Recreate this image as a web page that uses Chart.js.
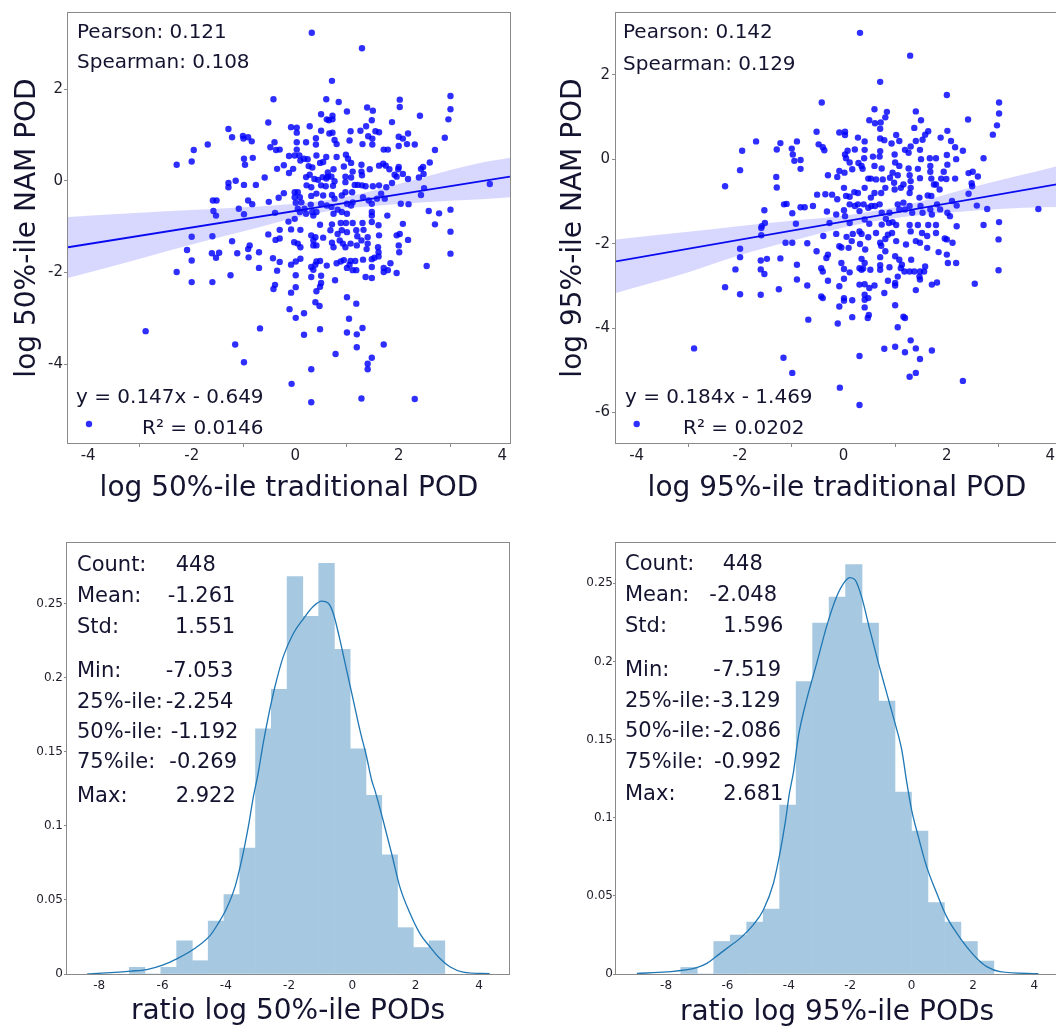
<!DOCTYPE html>
<html>
<head>
<meta charset="utf-8">
<script src="https://cdn.jsdelivr.net/npm/chart.js@4.4.1/dist/chart.umd.min.js"></script>
<style>
  html, body { margin: 0; padding: 0; background: #fff; width: 1056px; height: 1027px; overflow: hidden; }
  canvas { position: absolute; }
</style>
</head>
<body>
<canvas id="tl" width="528" height="520" style="left:0;top:0"></canvas>
<canvas id="tr" width="540" height="520" style="left:528px;top:0"></canvas>
<canvas id="bl" width="528" height="512" style="left:0;top:520px"></canvas>
<canvas id="br" width="540" height="512" style="left:528px;top:520px"></canvas>
<script>
// ---------------- DATA ----------------
const scatter50 = [
[0.32,3.23],[1.29,2.89],[0.71,2.18],[-0.42,1.78],[0.60,1.78],[0.84,1.72],[3.00,1.85],[2.02,1.77],[2.02,1.61],[3.00,1.56],[1.39,1.60],[1.50,1.53],[1.00,1.51],[0.50,1.45],[0.72,1.42],[0.61,1.34],[0.72,1.34],[0.65,1.32],[2.41,1.42],[2.96,1.34],[1.48,1.32],[1.87,1.28],[-0.52,1.27],[-1.29,1.13],[-0.08,1.17],[0.03,1.16],[0.03,1.05],[0.28,1.19],[1.37,1.19],[0.50,1.09],[0.72,1.05],[0.66,1.03],[1.07,1.08],[1.26,1.09],[1.55,1.08],[1.62,1.06],[1.41,0.97],[1.49,0.92],[2.18,1.03],[2.00,0.96],[2.08,0.92],[2.89,0.94],[-1.22,0.95],[-1.01,0.98],[-0.91,0.95],[-0.84,0.86],[-1.00,0.92],[0.03,0.84],[0.21,0.84],[0.40,0.93],[0.76,0.89],[0.80,0.80],[1.05,0.88],[-1.69,0.79],[-1.96,0.67],[-2.00,0.42],[-2.29,0.35],[-0.99,0.48],[-0.82,0.50],[-0.97,0.35],[-0.48,0.73],[-0.40,0.84],[-0.37,0.67],[-0.30,0.68],[0.03,0.68],[-0.01,0.55],[-0.12,0.54],[0.08,0.55],[0.40,0.79],[0.41,0.55],[0.60,0.52],[0.80,0.52],[0.98,0.57],[1.02,0.48],[1.30,0.80],[1.49,0.79],[1.71,0.68],[1.79,0.68],[2.00,0.76],[2.16,0.80],[2.31,0.79],[2.70,0.67],[2.60,0.40],[2.47,0.30],[2.48,0.15],[2.39,0.07],[-0.22,0.34],[-0.35,0.26],[-0.12,0.17],[-0.04,0.26],[0.10,0.44],[0.17,0.48],[0.24,0.47],[0.26,0.32],[0.33,0.29],[0.48,0.39],[0.54,0.41],[0.63,0.18],[0.74,0.25],[0.94,0.31],[1.08,0.39],[1.11,0.20],[1.28,0.35],[1.28,0.20],[1.44,0.25],[1.62,0.33],[1.70,0.37],[1.75,0.33],[1.82,0.25],[2.00,0.30],[1.99,0.25],[1.92,0.13],[2.08,0.15],[2.18,0.04],[2.43,0.26],[-0.59,0.07],[-0.76,-0.09],[-0.99,-0.09],[-1.15,0.00],[-1.29,-0.05],[-1.29,-0.14],[0.21,0.08],[0.28,0.13],[0.37,0.04],[0.44,0.02],[0.53,0.08],[0.60,0.05],[0.63,0.09],[0.70,0.09],[0.76,-0.01],[0.73,-0.11],[0.97,0.09],[0.97,-0.03],[1.08,0.07],[1.15,-0.09],[1.21,-0.09],[1.29,0.12],[1.29,-0.10],[1.36,-0.12],[1.50,-0.12],[1.62,-0.10],[1.76,-0.14],[1.87,-0.05],[1.96,0.09],[0.22,-0.10],[0.31,-0.14],[0.50,-0.10],[0.59,-0.12],[-0.32,-0.37],[-0.22,-0.27],[-0.01,-0.25],[0.05,-0.25],[-0.01,-0.36],[0.09,-0.36],[0.12,-0.47],[0.31,-0.33],[0.41,-0.28],[0.54,-0.32],[0.71,-0.31],[0.76,-0.39],[0.90,-0.32],[0.97,-0.25],[1.10,-0.25],[-1.59,-0.43],[-1.52,-0.43],[-1.58,-0.66],[-1.53,-0.76],[-1.09,-0.61],[-0.99,-0.73],[-0.91,-0.43],[-0.83,-0.51],[-0.51,-0.46],[-0.39,-0.70],[0.01,-0.48],[0.05,-0.61],[0.09,-0.68],[0.18,-0.61],[0.21,-0.72],[0.30,-0.52],[0.33,-0.68],[0.41,-0.68],[0.35,-0.76],[0.50,-0.50],[0.61,-0.54],[0.70,-0.57],[0.74,-0.72],[0.82,-0.63],[0.90,-0.68],[1.00,-0.72],[1.00,-0.50],[1.08,-0.54],[1.11,-0.47],[1.31,-0.36],[1.42,-0.43],[1.48,-0.50],[1.48,-0.68],[1.48,-0.76],[1.58,-0.39],[1.66,-0.28],[1.73,-0.39],[1.78,-0.76],[2.04,-0.50],[2.19,-0.51],[2.43,-0.31],[2.49,-0.16],[2.58,-0.66],[2.78,-0.71],[3.00,-0.63],[3.76,-0.07],[-0.13,-0.89],[-0.01,-0.83],[0.48,-0.96],[0.71,-0.95],[0.88,-0.92],[0.98,-0.92],[1.11,-0.92],[1.30,-0.92],[1.48,-0.90],[1.61,-0.97],[2.08,-0.94],[2.70,-0.95],
[-2.00,-1.22],[-1.60,-1.21],[-1.22,-1.32],[-0.88,-1.41],[-0.91,-1.49],[-1.12,-1.58],[-0.70,-1.56],[-0.52,-1.17],[-0.30,-1.07],[-0.38,-1.29],[-0.30,-1.26],[-0.08,-1.06],[-0.02,-1.34],[0.10,-1.07],[0.05,-1.37],[0.10,-1.45],[0.31,-1.19],[0.35,-1.30],[0.39,-1.23],[0.35,-1.41],[0.41,-1.41],[0.54,-1.24],[0.68,-1.08],[0.71,-1.35],[0.74,-1.45],[0.82,-1.16],[0.86,-1.30],[0.90,-1.08],[1.00,-1.12],[0.92,-1.37],[0.97,-1.45],[1.07,-1.37],[1.18,-1.08],[1.20,-1.21],[1.19,-1.41],[1.28,-1.30],[1.32,-1.07],[1.40,-1.23],[1.40,-1.37],[1.38,-1.49],[1.62,-1.19],[1.60,-1.45],[1.61,-1.56],[1.61,-1.65],[1.96,-1.19],[2.02,-1.16],[2.00,-1.41],[2.01,-1.56],[2.18,-1.29],[3.00,-1.11],[3.00,-1.59],[-2.09,-1.51],[-2.00,-1.74],[-1.61,-1.58],[-1.53,-1.68],[-1.47,-1.57],[-1.25,-2.06],[-2.29,-1.99],[-2.00,-2.21],[-1.60,-2.21],[-0.90,-1.67],[-0.70,-1.90],[-0.43,-1.69],[-0.30,-1.77],[-0.35,-1.96],[-0.08,-1.83],[0.01,-1.76],[0.10,-1.70],[0.01,-2.06],[-0.42,-2.36],[-0.39,-2.27],[-0.08,-2.44],[0.01,-2.32],[0.31,-1.88],[0.35,-1.94],[0.41,-1.76],[0.39,-1.83],[0.48,-1.75],[0.61,-1.85],[0.50,-2.07],[0.31,-2.10],[0.50,-2.23],[0.48,-2.31],[0.41,-2.41],[0.77,-2.17],[0.80,-1.80],[0.88,-1.76],[0.94,-1.73],[1.07,-1.75],[1.05,-1.83],[1.00,-1.90],[1.11,-1.95],[1.18,-1.95],[1.16,-1.75],[1.31,-1.72],[1.36,-2.10],[1.48,-2.12],[1.48,-1.88],[1.48,-1.71],[1.53,-1.68],[1.71,-1.90],[1.71,-1.99],[1.79,-1.95],[1.84,-1.80],[1.96,-2.01],[2.54,-1.86],[1.00,-2.54],[1.18,-2.68],[0.39,-2.65],[0.47,-2.73],[-0.11,-2.80],[0.01,-2.99],[0.17,-2.89],[1.04,-3.01],[1.30,-3.21],[1.00,-3.31],[1.19,-3.35],[0.48,-3.24],[0.17,-3.36],[-0.68,-3.22],[-2.89,-3.28],[-1.16,-3.57],[-0.99,-3.96],[0.31,-4.11],[0.78,-3.78],[1.19,-3.63],[1.71,-3.57],[1.48,-3.86],[1.40,-3.99],[1.40,-4.11],[-0.07,-4.43],[0.31,-4.83],[1.28,-4.75],[2.31,-4.76]
];
const scatter95 = [
[0.32,2.99],[1.29,2.45],[0.71,1.83],[-0.42,1.34],[2.00,1.52],[3.01,1.34],[3.01,1.08],[2.97,0.80],[2.89,0.58],[0.60,1.18],[0.84,1.12],[0.50,0.92],[0.61,0.85],[0.72,0.87],[0.81,0.99],[0.71,0.72],[1.40,1.13],[1.50,0.92],[2.41,0.94],[1.37,0.74],[1.64,0.66],[1.58,0.58],[2.01,0.67],[1.88,0.51],[2.08,0.43],[2.16,0.28],[2.31,0.20],[2.71,0.02],[-0.52,0.65],[-0.08,0.63],[0.03,0.65],[0.03,0.57],[0.28,0.51],[0.41,0.42],[0.71,0.49],[0.79,0.45],[0.93,0.37],[1.02,0.57],[1.08,0.43],[1.30,0.30],[1.40,0.43],[1.48,0.22],[1.53,0.46],[1.19,0.22],[1.26,0.15],[-1.69,0.42],[-1.96,0.20],[-2.00,-0.26],[-2.29,-0.64],[-1.29,0.23],[-1.22,0.38],[-1.00,0.25],[-0.98,0.11],[-0.90,0.42],[-0.95,-0.04],[-0.83,-0.02],[-0.83,-0.23],[-0.48,0.35],[-0.40,0.28],[-0.37,0.21],[0.03,0.11],[0.05,0.02],[0.08,0.20],[0.22,0.23],[0.41,0.22],[0.40,0.02],[0.57,0.06],[0.70,0.06],[0.71,0.19],[0.99,0.11],[1.00,-0.08],[1.08,-0.16],[1.26,-0.22],[1.50,0.00],[1.67,0.02],[1.79,0.02],[2.00,0.10],[2.01,-0.13],[2.18,0.00],[2.50,-0.30],[2.42,-0.33],[2.60,-0.41],[-0.30,-0.38],[-0.12,-0.42],[-0.08,-0.28],[0.02,-0.32],[0.12,-0.08],[0.17,-0.24],[0.29,-0.09],[0.35,-0.16],[0.37,-0.23],[0.53,-0.46],[0.60,-0.16],[0.63,-0.48],[0.74,-0.22],[0.76,-0.48],[0.90,-0.44],[0.95,-0.32],[0.98,-0.56],[1.05,-0.38],[1.16,-0.60],[1.28,-0.38],[1.30,-0.52],[1.44,-0.23],[1.48,-0.45],[1.68,-0.16],[1.68,-0.30],[1.70,-0.46],[1.75,-0.60],[1.89,-0.46],[1.94,-0.30],[1.99,-0.47],[2.16,-0.46],[2.48,-0.57],[2.49,-0.64],[2.42,-0.82],[2.58,-1.10],[2.78,-1.18],[3.01,-1.49],[3.77,-1.18],[-1.30,-0.42],[-1.29,-0.67],[-0.51,-0.84],[-0.35,-0.83],[-0.22,-0.84],[-0.12,-0.95],[0.01,-0.68],[0.05,-0.87],[0.12,-0.89],[0.21,-0.78],[0.28,-0.80],[0.41,-0.68],[0.48,-0.46],[0.53,-0.91],[0.60,-0.80],[0.73,-0.80],[0.81,-0.68],[0.99,-0.72],[1.11,-0.68],[1.28,-0.80],[1.30,-0.68],[1.47,-0.91],[1.63,-0.86],[1.70,-0.87],[1.79,-0.60],[1.86,-0.72],[-1.15,-1.07],[-1.10,-1.06],[-0.83,-1.14],[-0.75,-1.14],[-0.59,-1.11],[-0.99,-1.28],[-1.53,-1.21],[-1.52,-1.51],[-1.58,-1.59],[-0.92,-1.53],[-0.32,-1.24],[-0.14,-1.31],[0.01,-1.21],[0.03,-1.35],[0.12,-1.07],[0.22,-1.11],[0.28,-1.07],[0.31,-1.23],[0.39,-1.07],[0.41,-1.43],[0.48,-1.15],[0.54,-1.11],[0.61,-1.11],[0.70,-1.07],[0.74,-1.27],[0.82,-1.41],[0.89,-1.27],[0.95,-1.49],[1.05,-1.07],[1.08,-1.19],[1.16,-1.03],[1.19,-1.19],[1.28,-1.11],[1.33,-1.27],[1.49,-1.11],[1.53,-1.27],[1.68,-1.19],[1.71,-1.31],[1.81,-1.07],[1.87,-1.19],[2.01,-1.27],[2.06,-1.35],[2.10,-0.99],[2.19,-1.10],[2.19,-1.59],[2.71,-1.56],[-0.27,-1.51],[0.12,-1.51],[0.50,-1.53],[0.74,-1.55],[0.88,-1.51],[1.02,-1.56],[1.28,-1.56],[1.44,-1.56],[1.64,-1.56],[1.79,-1.56],
[-1.59,-1.63],[-1.59,-1.80],[-2.00,-2.12],[-2.00,-2.32],[-1.60,-2.40],[-1.48,-2.36],[-1.22,-2.35],[-2.09,-2.61],[-1.60,-2.61],[-1.53,-2.72],[-2.29,-3.03],[-2.00,-3.20],[-1.60,-3.21],[-1.25,-3.08],[-1.12,-1.98],[-0.99,-1.98],[-0.70,-1.99],[-0.52,-2.18],[-0.39,-1.82],[-0.33,-2.34],[-0.30,-2.26],[-0.14,-1.77],[-0.08,-2.06],[-0.04,-2.09],[0.10,-2.10],[0.06,-1.84],[0.16,-1.94],[0.18,-1.77],[0.31,-1.71],[0.35,-1.77],[0.32,-2.01],[0.48,-1.85],[0.42,-2.14],[0.35,-2.36],[0.41,-2.46],[0.38,-2.59],[0.63,-1.75],[0.71,-1.98],[0.73,-2.05],[0.81,-2.18],[0.86,-1.79],[0.81,-1.89],[0.94,-1.75],[1.02,-1.94],[1.00,-2.30],[1.08,-2.38],[1.13,-2.50],[1.21,-2.02],[1.31,-2.38],[1.30,-1.71],[1.40,-1.94],[1.48,-1.98],[1.52,-1.75],[1.62,-1.82],[1.62,-2.10],[1.79,-1.75],[1.84,-2.20],[1.96,-1.88],[2.00,-1.90],[2.00,-2.26],[2.02,-2.46],[2.11,-1.98],[2.18,-2.46],[3.00,-1.90],[3.00,-2.63],[-0.90,-2.50],[-0.90,-2.85],[-0.70,-2.99],[-0.43,-2.58],[-0.40,-2.66],[-0.30,-2.88],[-0.08,-3.01],[-0.04,-2.46],[0.01,-2.60],[0.01,-2.83],[0.12,-2.68],[0.31,-2.58],[0.35,-2.62],[0.52,-2.62],[0.31,-2.97],[0.41,-2.96],[0.50,-3.05],[0.60,-2.99],[0.71,-2.32],[0.71,-2.51],[0.71,-2.62],[0.89,-2.56],[0.86,-2.88],[1.00,-2.93],[1.00,-2.99],[1.05,-2.78],[1.11,-2.58],[1.18,-2.66],[1.28,-2.66],[1.37,-2.66],[1.48,-2.66],[1.56,-2.66],[1.58,-2.54],[1.47,-2.78],[1.48,-2.85],[1.40,-3.10],[1.71,-2.97],[1.81,-2.92],[2.54,-2.95],[-0.43,-3.25],[-0.40,-3.29],[0.01,-3.29],[0.01,-3.35],[0.17,-3.34],[-0.08,-3.49],[0.41,-3.21],[0.41,-3.33],[0.48,-3.29],[0.41,-3.51],[0.79,-3.17],[1.00,-3.46],[1.16,-3.73],[1.19,-3.76],[0.49,-3.69],[0.47,-3.76],[0.17,-3.74],[-0.11,-3.89],[1.05,-3.98],[-0.68,-3.80],[1.30,-4.29],[1.00,-4.44],[0.79,-4.49],[1.19,-4.57],[1.40,-4.48],[1.71,-4.53],[1.48,-4.73],[-2.89,-4.48],[-1.16,-4.70],[-0.99,-5.06],[0.31,-4.66],[1.40,-5.06],[1.28,-5.15],[2.31,-5.25],[-0.07,-5.41],[0.31,-5.82]
];

// regression lines and confidence bands
const fit50X = [-4.39, 4.15];
const fit50Y = [-1.45, 0.09];
const band50X = [-4.39, -3, -2, -1, 0, 0.8, 1.5, 2.5, 3.5, 4.15];
const band50Hi = [-0.79, -0.70, -0.64, -0.58, -0.50, -0.39, -0.22, 0.08, 0.37, 0.50];
const band50Lo = [-2.12, -1.70, -1.39, -1.10, -0.81, -0.63, -0.55, -0.47, -0.41, -0.36];
const fit95X = [-4.40, 4.15];
const fit95Y = [-2.42, -0.59];
const band95X = [-4.40, -3, -2, -1, 0, 0.6, 1.5, 2.5, 3.5, 4.15];
const band95Hi = [-1.90, -1.72, -1.58, -1.46, -1.34, -1.23, -1.00, -0.66, -0.36, -0.16];
const band95Lo = [-3.17, -2.68, -2.27, -1.94, -1.62, -1.47, -1.32, -1.22, -1.15, -1.13];

// histograms (bin centres and densities)
const hist50X = [-6.804,-6.305,-5.806,-5.307,-4.808,-4.309,-3.811,-3.312,-2.813,-2.314,-1.815,-1.316,-0.817,-0.318,0.181,0.680,1.179,1.678,2.177,2.673];
const hist50Y = [0.0045,0,0.0045,0.0224,0.0090,0.0358,0.0537,0.0850,0.1656,0.1924,0.2685,0.2417,0.2775,0.2193,0.1522,0.1208,0.0806,0.0313,0.0179,0.0224];
const hist95X = [-7.251,-6.714,-6.177,-5.640,-5.103,-4.566,-4.030,-3.493,-2.956,-2.419,-1.882,-1.345,-0.809,-0.272,0.265,0.802,1.339,1.876,2.413];
const hist95Y = [0.0042,0,0.0208,0.0249,0.0333,0.0416,0.1081,0.1871,0.2245,0.2412,0.2620,0.2245,0.1746,0.1164,0.0915,0.0457,0.0333,0.0208,0.0083];

// KDE curves
const kde50X = [-8.38,-7.0,-6.5,-6.0,-5.52,-5.01,-4.5,-4.24,-4.0,-3.71,-3.5,-3.29,-3.13,-2.98,-2.82,-2.66,-2.45,-2.19,-1.87,-1.55,-1.24,-0.97,-0.76,-0.6,-0.39,-0.18,0.03,0.24,0.45,0.61,0.71,0.97,1.24,1.5,1.82,2.13,2.45,2.76,3.08,3.5,4.34];
const kde50Y = [0,0.002,0.003,0.006,0.0106,0.0169,0.0259,0.0342,0.0432,0.0589,0.0769,0.0994,0.1196,0.1354,0.1557,0.1736,0.1939,0.2141,0.2299,0.2400,0.2483,0.2519,0.2505,0.2434,0.2254,0.2051,0.1849,0.1646,0.1466,0.1309,0.1242,0.1039,0.0814,0.0589,0.0410,0.0275,0.0184,0.0106,0.0049,0.0013,0.0002];
const kde95X = [-8.95,-7.98,-7.0,-6.67,-6.40,-6.02,-5.59,-5.16,-4.83,-4.50,-4.29,-4.12,-3.98,-3.85,-3.69,-3.42,-3.09,-2.77,-2.44,-2.17,-2.01,-1.84,-1.63,-1.36,-1.08,-0.81,-0.54,-0.32,-0.16,0.0,0.22,0.49,0.82,1.14,1.47,1.79,2.12,2.45,2.88,4.13];
const kde95Y = [0.0004,0.0013,0.0041,0.0068,0.0107,0.0164,0.0228,0.0314,0.0410,0.0581,0.0773,0.0965,0.1157,0.1290,0.1519,0.1754,0.1989,0.2223,0.2415,0.2512,0.2537,0.2522,0.2415,0.2202,0.1989,0.1797,0.1605,0.1434,0.1230,0.1050,0.0879,0.0687,0.0517,0.0367,0.0261,0.0175,0.0101,0.0047,0.0015,0.0002];

// tick values / labels
const scatterXTicks = [-4,-3,-2,-1,0,1,2,3,4];
const scatterXLabels = ['-4','','-2','','0','','2','','4'];
const y50Ticks = [-4,-2,0,2];
const y50Labels = ['-4','-2','0','2'];
const y95Ticks = [-6,-4,-2,0,2];
const y95Labels = ['-6','-4','-2','0','2'];
const histXTicks = [-8,-6,-4,-2,0,2,4];
const histXLabels = ['-8','-6','-4','-2','0','2','4'];
const histYTicks = [0,0.05,0.1,0.15,0.2,0.25];
const histYLabels = ['0','0.05','0.1','0.15','0.2','0.25'];

// annotation texts
const corr50 = ['Pearson: 0.121','Spearman: 0.108'];
const corr95 = ['Pearson: 0.142','Spearman: 0.129'];
const eq50 = ['y = 0.147x - 0.649','R\u00B2 = 0.0146'];
const eq95 = ['y = 0.184x - 1.469','R\u00B2 = 0.0202'];
const statLabels = ['Count:','Mean:','Std:','Min:','25%-ile:','50%-ile:','75%ile:','Max:'];
const stats50 = ['448','-1.261','1.551','-7.053','-2.254','-1.192','-0.269','2.922'];
const stats95 = ['448','-2.048','1.596','-7.519','-3.129','-2.086','-0.992','2.681'];

// ---------------- STYLE ----------------
const FONT = '"DejaVu Sans", sans-serif';
const TXT = '#141430';
const TICK = '#1e1e2a';
const SPINE = '#8a8a8a';
const PT = 'rgba(0,0,255,0.82)';
const LINE = '#0a0af0';
const BAND = 'rgba(60,60,255,0.2)';
const HIST = 'rgb(166,201,225)';
const KDE = '#1f77b4';

Chart.defaults.animation = false;
Chart.defaults.font.family = FONT;

function xy(xs, ys) { return xs.map((x, i) => ({ x: x, y: ys[i] })); }

function panelPlugin(items, dot) {
  return {
    id: 'panel',
    afterDatasetsDraw(chart) {
      const ctx = chart.ctx, a = chart.chartArea;
      ctx.save();
      ctx.strokeStyle = SPINE; ctx.lineWidth = 1;
      ctx.strokeRect(a.left - 0.5, a.top - 0.5, a.right - a.left + 1, a.bottom - a.top + 1);
      ctx.fillStyle = TXT; ctx.textAlign = 'left'; ctx.textBaseline = 'alphabetic';
      items.forEach(t => { ctx.font = t.size + 'px ' + FONT; ctx.fillText(t.text, t.x, t.y); });
      if (dot) {
        ctx.fillStyle = PT; ctx.beginPath(); ctx.arc(dot.x, dot.y, 3.2, 0, Math.PI * 2); ctx.fill();
      }
      ctx.restore();
    }
  };
}

function axisX(o) {
  return {
    type: 'linear', min: o.min, max: o.max, offset: false,
    afterBuildTicks: s => { s.ticks = o.ticks.map(v => ({ value: v })); },
    afterFit: s => { s.height = o.h; },
    ticks: { callback: (v, i) => o.labels[i], font: { family: FONT, size: o.fs }, color: TICK, padding: o.pad, autoSkip: false, maxRotation: 0, minRotation: 0 },
    grid: { offset: false, drawOnChartArea: false, drawTicks: true, tickLength: 4, tickWidth: 1,
            tickColor: c => (o.oddMarks && o.labels[c.index] === '' ? SPINE : 'rgba(0,0,0,0)') },
    border: { display: false },
    title: { display: true, text: o.title, font: { family: FONT, size: 28 }, color: TXT, padding: { top: 0, bottom: o.titlePad } }
  };
}
function axisY(o) {
  return {
    type: 'linear', min: o.min, max: o.max,
    afterBuildTicks: s => { s.ticks = o.ticks.map(v => ({ value: v })); },
    afterFit: s => { s.width = o.w; },
    ticks: { callback: (v, i) => o.labels[i], font: { family: FONT, size: o.fs }, color: TICK, padding: o.pad, autoSkip: false },
    grid: { drawOnChartArea: false, drawTicks: true, tickLength: o.tl, tickColor: SPINE },
    border: { display: false },
    title: o.title ? { display: true, text: o.title, font: { family: FONT, size: 28 }, color: TXT, padding: { top: o.titlePad, bottom: 0 } } : { display: false }
  };
}

function scatterChart(id, pts, fitX, fitY, bX, bHi, bLo, geo, xo, yo, items, dot) {
  new Chart(document.getElementById(id), {
    type: 'scatter',
    data: { datasets: [
      { type: 'line', data: xy(fitX, fitY), borderColor: LINE, borderWidth: 1.8, pointRadius: 0, fill: false, order: 1 },
      { type: 'line', data: xy(bX, bHi), borderColor: 'rgba(0,0,0,0)', borderWidth: 0, pointRadius: 0, fill: '+1', backgroundColor: BAND, cubicInterpolationMode: 'monotone', order: 2 },
      { type: 'line', data: xy(bX, bLo), borderColor: 'rgba(0,0,0,0)', borderWidth: 0, pointRadius: 0, fill: false, cubicInterpolationMode: 'monotone', order: 2 },
      { type: 'scatter', data: pts.map(p => ({ x: p[0], y: p[1] })), backgroundColor: PT, borderWidth: 0, pointRadius: 3.2, order: 3 }
    ]},
    options: {
      responsive: false, animation: false, devicePixelRatio: 1,
      layout: { padding: geo },
      plugins: { legend: { display: false }, tooltip: { enabled: false } },
      scales: { x: axisX(xo), y: axisY(yo) }
    },
    plugins: [panelPlugin(items, dot)]
  });
}

function histChart(id, hx, hy, kx, ky, geo, xo, yo, items) {
  new Chart(document.getElementById(id), {
    type: 'bar',
    data: { datasets: [
      { type: 'line', data: xy(kx, ky), borderColor: KDE, borderWidth: 1.3, pointRadius: 0, fill: false, cubicInterpolationMode: 'monotone', order: 1 },
      { type: 'bar', data: xy(hx, hy), backgroundColor: HIST, borderWidth: 0, barPercentage: 1, categoryPercentage: 1, order: 2 }
    ]},
    options: {
      responsive: false, animation: false, devicePixelRatio: 1,
      layout: { padding: geo },
      plugins: { legend: { display: false }, tooltip: { enabled: false } },
      scales: { x: axisX(xo), y: axisY(yo) }
    },
    plugins: [panelPlugin(items, null)]
  });
}

// ---- top-left
scatterChart('tl', scatter50, fit50X, fit50Y, band50X, band50Hi, band50Lo,
  { left: 0, top: 13, right: 18, bottom: 0 },
  { min: -4.39, max: 4.15, ticks: scatterXTicks, labels: scatterXLabels, fs: 15, pad: 0, h: 77, oddMarks: true, title: 'log 50%-ile traditional POD', titlePad: 14 },
  { min: -5.72, max: 3.66, ticks: y50Ticks, labels: y50Labels, fs: 15, pad: 1, tl: 4, w: 68, title: 'log 50%-ile NAM POD', titlePad: 11 },
  [ { text: corr50[0], x: 77, y: 37.5, size: 20 }, { text: corr50[1], x: 77, y: 68, size: 20 },
    { text: eq50[0], x: 76, y: 403, size: 20 }, { text: eq50[1], x: 142, y: 433.5, size: 20 } ],
  { x: 89, y: 424 });

// ---- top-right
scatterChart('tr', scatter95, fit95X, fit95Y, band95X, band95Hi, band95Lo,
  { left: 0, top: 13, right: 10, bottom: 0 },
  { min: -4.40, max: 4.15, ticks: scatterXTicks, labels: scatterXLabels, fs: 15, pad: 0, h: 77, oddMarks: true, title: 'log 95%-ile traditional POD', titlePad: 14 },
  { min: -6.72, max: 3.46, ticks: y95Ticks, labels: y95Labels, fs: 15, pad: 2, tl: 4, w: 88, title: 'log 95%-ile NAM POD', titlePad: 29 },
  [ { text: corr95[0], x: 95, y: 38.3, size: 20 }, { text: corr95[1], x: 95, y: 70, size: 20 },
    { text: eq95[0], x: 97, y: 403.3, size: 20 }, { text: eq95[1], x: 155, y: 434, size: 20 } ],
  { x: 108.7, y: 424 });

// ---- bottom-left
const statY50 = [50.7, 81.7, 112.7, 156.7, 187.7, 218.3, 248.3, 281.7];
const statVX50 = [175.7, 167.7, 175, 165.7, 165.7, 170.7, 169.3, 175.7];
const items50 = [];
statLabels.forEach((l, i) => { items50.push({ text: l, x: 77, y: statY50[i], size: 21 }); items50.push({ text: stats50[i], x: statVX50[i], y: statY50[i], size: 21 }); });
histChart('bl', hist50X, hist50Y, kde50X, kde50Y,
  { left: 0, top: 23, right: 19, bottom: 0 },
  { min: -9.02, max: 4.95, ticks: histXTicks, labels: histXLabels, fs: 12, pad: 1, h: 58, oddMarks: false, title: 'ratio log 50%-ile PODs', titlePad: 3 },
  { min: 0, max: 0.2912, ticks: histYTicks, labels: histYLabels, fs: 12, pad: 1, tl: 3, w: 67, title: null },
  items50);

// ---- bottom-right
const statY95 = [50, 81, 112, 156, 187.3, 217.3, 247.7, 280];
const statVX95 = [194.7, 181.3, 195.3, 185.3, 184.7, 185.3, 186, 195.3];
const items95 = [];
statLabels.forEach((l, i) => { items95.push({ text: l, x: 97, y: statY95[i], size: 21 }); items95.push({ text: stats95[i], x: statVX95[i], y: statY95[i], size: 21 }); });
histChart('br', hist95X, hist95Y, kde95X, kde95Y,
  { left: 0, top: 23, right: 10, bottom: 0 },
  { min: -9.63, max: 4.77, ticks: histXTicks, labels: histXLabels, fs: 12, pad: 1, h: 58, oddMarks: false, title: 'ratio log 95%-ile PODs', titlePad: 2 },
  { min: 0, max: 0.2758, ticks: histYTicks, labels: histYLabels, fs: 12, pad: 0, tl: 3, w: 88, title: null },
  items95);
</script>
</body>
</html>
